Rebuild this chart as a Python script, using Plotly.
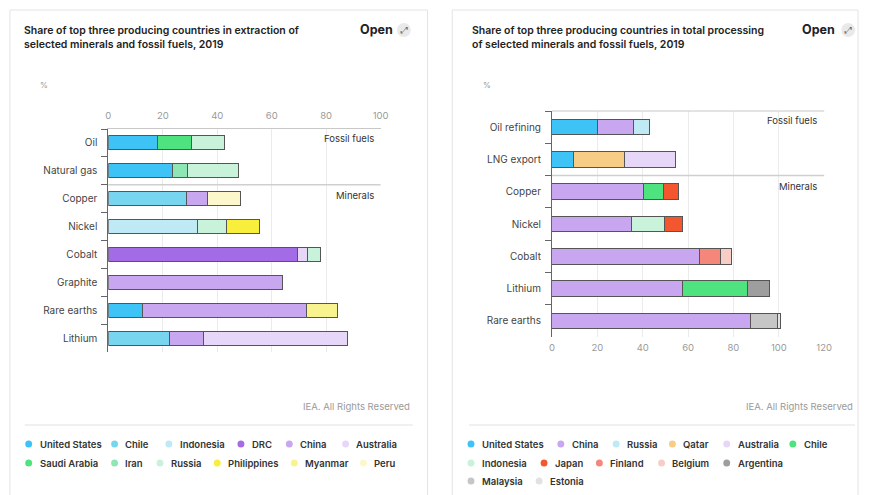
import plotly.graph_objects as go

W, H = 869, 495
FONT = "Inter"

# ---------------- Data: extraction (left) ----------------
ext_categories = ["Oil", "Natural gas", "Copper", "Nickel", "Cobalt", "Graphite", "Rare earths", "Lithium"]
ext_countries = ["United States", "Chile", "Indonesia", "DRC", "China", "Australia",
                 "Saudi Arabia", "Iran", "Russia", "Philippines", "Myanmar", "Peru"]
ext_united_states = [18.0, 23.6, None, None, None, None, 12.7, None]
ext_chile         = [None, None, 28.7, None, None, None, None, 22.4]
ext_indonesia     = [None, None, None, 32.6, None, None, None, None]
ext_drc           = [None, None, None, None, 69.5, None, None, None]
ext_china         = [None, None, 7.8, None, None, 63.8, 60.1, 12.7]
ext_australia     = [None, None, None, None, 3.8, None, None, 52.6]
ext_saudi_arabia  = [12.5, None, None, None, None, None, None, None]
ext_iran          = [None, 5.4, None, None, None, None, None, None]
ext_russia        = [12.1, 18.8, None, 10.7, 4.7, None, None, None]
ext_philippines   = [None, None, None, 12.1, None, None, None, None]
ext_myanmar       = [None, None, None, None, None, None, 11.2, None]
ext_peru          = [None, None, 11.9, None, None, None, None, None]
ext_series = [ext_united_states, ext_chile, ext_indonesia, ext_drc, ext_china, ext_australia,
              ext_saudi_arabia, ext_iran, ext_russia, ext_philippines, ext_myanmar, ext_peru]
ext_colors = ["#3ec3f6", "#78d5f0", "#c0e9f6", "#a36be6", "#c8a6f0", "#e6d7f8",
              "#4fe37f", "#8ee6b4", "#c8f2d9", "#f8ee3c", "#f8f38f", "#fdf8cc"]

# ---------------- Data: processing (right) ----------------
proc_categories = ["Oil refining", "LNG export", "Copper", "Nickel", "Cobalt", "Lithium", "Rare earths"]
proc_countries = ["United States", "China", "Russia", "Qatar", "Australia", "Chile", "Indonesia",
                  "Japan", "Finland", "Belgium", "Argentina", "Malaysia", "Estonia"]
proc_united_states = [20.2, 9.3, None, None, None, None, None]
proc_china         = [15.6, None, 40.2, 35.1, 64.9, 57.6, 87.4]
proc_russia        = [7.3, None, None, None, None, None, None]
proc_qatar         = [None, 22.6, None, None, None, None, None]
proc_australia     = [None, 22.4, None, None, None, None, None]
proc_chile         = [None, None, 9.1, None, None, 28.8, None]
proc_indonesia     = [None, None, None, 14.5, None, None, None]
proc_japan         = [None, None, 6.6, 8.0, None, None, None]
proc_finland       = [None, None, None, None, 9.4, None, None]
proc_belgium       = [None, None, None, None, 4.8, None, None]
proc_argentina     = [None, None, None, None, None, 9.7, None]
proc_malaysia      = [None, None, None, None, None, None, 11.9]
proc_estonia       = [None, None, None, None, None, None, 1.4]
proc_series = [proc_united_states, proc_china, proc_russia, proc_qatar, proc_australia, proc_chile,
               proc_indonesia, proc_japan, proc_finland, proc_belgium, proc_argentina,
               proc_malaysia, proc_estonia]
proc_colors = ["#3ec3f6", "#c8a6f0", "#c0e9f6", "#f7cd85", "#e6d7f8", "#4fe37f", "#c8f2d9",
               "#f4572f", "#f5877a", "#f8cdc6", "#9e9e9e", "#c6c6c6", "#e2e2e2"]

x_ticks_ext = [0, 20, 40, 60, 80, 100]
x_ticks_proc = [0, 20, 40, 60, 80, 100, 120]

titles = ["Share of top three producing countries in extraction of<br>selected minerals and fossil fuels, 2019",
          "Share of top three producing countries in total processing<br>of selected minerals and fossil fuels, 2019"]


def px(x):
    return x / W


def py(y):
    return 1 - y / H


fig = go.Figure()

for name, vals, col in zip(ext_countries, ext_series, ext_colors):
    fig.add_trace(go.Bar(
        x=vals, y=ext_categories, orientation="h", name=name, width=0.5,
        marker=dict(color=col, line=dict(color="#555555", width=1)),
        xaxis="x", yaxis="y", showlegend=False))

for name, vals, col in zip(proc_countries, proc_series, proc_colors):
    fig.add_trace(go.Bar(
        x=vals, y=proc_categories, orientation="h", name=name, width=0.48,
        marker=dict(color=col, line=dict(color="#555555", width=1)),
        xaxis="x2", yaxis="y2", showlegend=False))

shapes = []
annotations = []

# cards
for x0, x1 in [(7, 430), (455, 866)]:
    shapes.append(dict(type="rect", xref="paper", yref="paper", x0=px(x0), x1=px(x1),
                       y0=py(520), y1=py(10), line=dict(color="#e4e4e4", width=1),
                       fillcolor="white", layer="below"))

# titles, open buttons, % labels, footers, separators
for tx, title, ox, ix, pctx, fx, s0, s1 in [
        (19, titles[0], 397, 406, 42, 414, 22, 415),
        (473, titles[1], 845, 856, 490, 863, 472, 863)]:
    annotations.append(dict(text=title, x=px(tx), y=py(37), xref="paper", yref="paper",
                            xanchor="left", yanchor="middle", align="left", showarrow=False,
                            font=dict(family=FONT, size=10.5, color="#222", weight=600)))
    annotations.append(dict(text="Open", x=px(ox), y=py(30), xref="paper", yref="paper",
                            xanchor="right", yanchor="middle", showarrow=False,
                            font=dict(family=FONT, size=12.5, color="#222", weight=700)))
    shapes.append(dict(type="circle", xref="paper", yref="paper",
                       x0=px(ix - 7), x1=px(ix + 7), y0=py(37), y1=py(23),
                       fillcolor="#e9e9e9", line=dict(width=0)))
    annotations.append(dict(text="⤢", x=px(ix), y=py(30), xref="paper", yref="paper",
                            xanchor="center", yanchor="middle", showarrow=False,
                            font=dict(family="DejaVu Sans", size=9, color="#666")))
    annotations.append(dict(text="%", x=px(pctx), y=py(85), xref="paper", yref="paper",
                            xanchor="center", yanchor="middle", showarrow=False,
                            font=dict(family=FONT, size=8, color="#999")))
    annotations.append(dict(text="IEA. All Rights Reserved", x=px(fx), y=py(406), xref="paper",
                            yref="paper", xanchor="right", yanchor="middle", showarrow=False,
                            font=dict(family=FONT, size=9.5, color="#9a9a9a")))
    shapes.append(dict(type="line", xref="paper", yref="paper", x0=px(s0), x1=px(s1),
                       y0=py(425), y1=py(425), line=dict(color="#ebebeb", width=1.5)))

# group dividers and labels
for xr, yr in [("x", "y"), ("x2", "y2")]:
    shapes.append(dict(type="line", xref=f"{xr} domain", yref=yr, x0=0, x1=1, y0=1.5, y1=1.5,
                       line=dict(color="#cfcfcf", width=1.5)))
    annotations.append(dict(text="Fossil fuels", xref=f"{xr} domain", yref=yr, x=1, y=-0.5,
                            xanchor="right", yanchor="top", xshift=-5, yshift=-2, showarrow=False,
                            font=dict(family=FONT, size=9.5, color="#333")))
    annotations.append(dict(text="Minerals", xref=f"{xr} domain", yref=yr, x=1, y=1.5,
                            xanchor="right", yanchor="top", xshift=-5, yshift=-3, showarrow=False,
                            font=dict(family=FONT, size=9.5, color="#333")))

# top frame line for right chart
shapes.append(dict(type="line", xref="x2 domain", yref="y2 domain", x0=0, x1=1, y0=1, y1=1,
                   line=dict(color="#c8c8c8", width=1)))

# custom legends
leg_left_pos = [(26, 444), (113, 444), (168, 444), (241, 444), (290, 444), (347, 444),
                (26, 463), (113, 463), (159, 463), (217, 463), (295, 463), (365, 463)]
leg_right_pos = [(474, 444), (565, 444), (621, 444), (678, 444), (733, 444), (800, 444),
                 (474, 463), (548, 463), (604, 463), (667, 463), (733, 463),
                 (474, 481), (543, 481)]
for names, cols, poss in [(ext_countries, ext_colors, leg_left_pos),
                          (proc_countries, proc_colors, leg_right_pos)]:
    for name, col, (dx, dy) in zip(names, cols, poss):
        shapes.append(dict(type="circle", xref="paper", yref="paper",
                           x0=px(dx - 3.5), x1=px(dx + 3.5), y0=py(dy + 3.5), y1=py(dy - 3.5),
                           fillcolor=col, line=dict(width=0)))
        annotations.append(dict(text=name, x=px(dx + 9), y=py(dy), xref="paper", yref="paper",
                                xanchor="left", yanchor="middle", showarrow=False,
                                font=dict(family=FONT, size=9.5, color="#333", weight=600)))

yaxis_common = dict(type="category", autorange=False, showline=True, linecolor="#666",
                    linewidth=1, ticks="outside", tickson="boundaries", ticklen=6,
                    tickcolor="#666", tickfont=dict(family=FONT, size=10, color="#444"),
                    showgrid=False, zeroline=False, ticklabelstandoff=8)

fig.update_layout(
    width=W, height=H, margin=dict(l=0, r=0, t=0, b=0),
    paper_bgcolor="white", plot_bgcolor="rgba(0,0,0,0)",
    barmode="stack", showlegend=False,
    font=dict(family=FONT),
    xaxis=dict(domain=[px(106.7), px(382.4)], range=[0, 100], side="top", anchor="y",
               tickvals=x_ticks_ext, showline=True, linecolor="#c8c8c8",
               gridcolor="#ebebeb", zeroline=False,
               tickfont=dict(family=FONT, size=9.5, color="#9a9a9a"), ticklabelstandoff=5),
    yaxis=dict(domain=[py(352), py(129)], anchor="x", categoryarray=ext_categories,
               range=[len(ext_categories) - 0.5, -0.5], **yaxis_common),
    xaxis2=dict(domain=[px(556), px(831.7)], range=[0, 120], side="bottom", anchor="y2",
                tickvals=x_ticks_proc, showline=False, gridcolor="#ebebeb", zeroline=False,
                tickfont=dict(family=FONT, size=9.5, color="#9a9a9a"), ticklabelstandoff=3),
    yaxis2=dict(domain=[py(337), py(111)], anchor="x2", categoryarray=proc_categories,
                range=[len(proc_categories) - 0.5, -0.5], **yaxis_common),
    shapes=shapes, annotations=annotations,
)

fig.write_html("out.html")
